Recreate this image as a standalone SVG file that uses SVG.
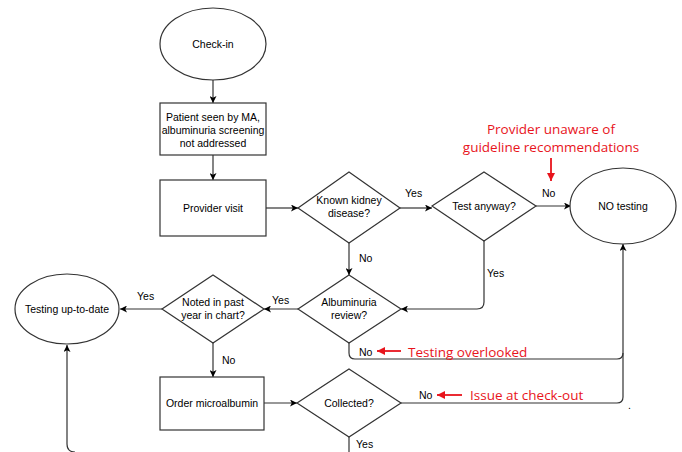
<svg xmlns="http://www.w3.org/2000/svg" width="682" height="452" viewBox="0 0 682 452">
<defs>
<marker id="ah" viewBox="0 0 10 10" refX="10" refY="5" markerWidth="7" markerHeight="7" orient="auto" markerUnits="userSpaceOnUse"><path d="M0,0 L10,5 L0,10 L2.5,5 Z" fill="#000"/></marker>
<marker id="rh" viewBox="0 0 10 10" refX="10" refY="5" markerWidth="8" markerHeight="8" orient="auto" markerUnits="userSpaceOnUse"><path d="M0,0 L10,5 L0,10 Z" fill="#e8141c"/></marker>
</defs>
<style>
.s{fill:#fff;stroke:#333;stroke-width:1.2}
.t{font-family:"Liberation Sans",Arial,sans-serif;font-size:10.5px;fill:#000;text-anchor:middle}
.l{font-family:"Liberation Sans",Arial,sans-serif;font-size:10.5px;fill:#000}
.c{fill:none;stroke:#333;stroke-width:1.2}
.r{font-family:"Open Sans","Liberation Sans",sans-serif;font-size:13.5px;fill:#e8141c}
.rc{fill:none;stroke:#e8141c;stroke-width:1.8}
</style>
<rect width="682" height="452" fill="#fff"/>
<g id="connectors">
<path class="c" d="M213,80 V103" marker-end="url(#ah)"/>
<path class="c" d="M213,155 V180" marker-end="url(#ah)"/>
<path class="c" d="M266,208 H298" marker-end="url(#ah)"/>
<path class="c" d="M400,208 H432" marker-end="url(#ah)"/>
<path class="c" d="M536,206 H571" marker-end="url(#ah)"/>
<path class="c" d="M349,243 V275" marker-end="url(#ah)"/>
<path class="c" d="M484,241 V302 Q484,309 477,309 H401" marker-end="url(#ah)"/>
<path class="c" d="M298,309 H264" marker-end="url(#ah)"/>
<path class="c" d="M162,309 H120" marker-end="url(#ah)"/>
<path class="c" d="M213,343 V377" marker-end="url(#ah)"/>
<path class="c" d="M264,403 H297" marker-end="url(#ah)"/>
<path class="c" d="M349,343 V353 Q349,359 355,359 H617 Q623,359 623,353"/>
<path class="c" d="M401,403 H617 Q623,403 623,397 V244" marker-end="url(#ah)"/>
<path class="c" d="M349,437 V452"/>
<path class="c" d="M75,452 Q67,452 67,444 V345" marker-end="url(#ah)"/>
<path class="rc" d="M551,158 V181" marker-end="url(#rh)"/>
<path class="rc" d="M401,351 H377" marker-end="url(#rh)"/>
<path class="rc" d="M462,395 H437" marker-end="url(#rh)"/>
<text class="l" x="405" y="197">Yes</text>
<text class="l" x="542" y="197">No</text>
<text class="l" x="359" y="262">No</text>
<text class="l" x="487" y="277">Yes</text>
<text class="l" x="272" y="304">Yes</text>
<text class="l" x="137" y="300">Yes</text>
<text class="l" x="222" y="364">No</text>
<text class="l" x="359" y="356">No</text>
<text class="l" x="419" y="399">No</text>
<text class="l" x="356" y="448">Yes</text>
<text class="l" x="628" y="409" font-size="8">.</text>
<text class="r" x="551" y="134" text-anchor="middle">Provider unaware of</text>
<text class="r" x="551" y="152" text-anchor="middle">guideline recommendations</text>
<text class="r" x="408" y="357">Testing overlooked</text>
<text class="r" x="470" y="400">Issue at check-out</text>
</g>
<g id="checkin"><ellipse class="s" cx="213" cy="44" rx="53" ry="36"/><text class="t" x="213" y="48">Check-in</text></g>
<g id="patient"><rect class="s" x="160" y="103" width="106" height="52"/><text class="t" x="213" y="121">Patient seen by MA,</text><text class="t" x="213" y="134">albuminuria screening</text><text class="t" x="213" y="147">not addressed</text></g>
<g id="provider"><rect class="s" x="160" y="180" width="106" height="56"/><text class="t" x="213" y="212">Provider visit</text></g>
<g id="kidney"><polygon class="s" points="349,172 400,208 349,243 298,208"/><text class="t" x="349" y="204">Known kidney</text><text class="t" x="349" y="217">disease?</text></g>
<g id="anyway"><polygon class="s" points="484,172 536,206 484,241 432,206"/><text class="t" x="484" y="210">Test anyway?</text></g>
<g id="notesting"><ellipse class="s" cx="623" cy="206" rx="53" ry="38"/><text class="t" x="623" y="210">NO testing</text></g>
<g id="albuminuria"><polygon class="s" points="349,275 401,309 349,343 298,309"/><text class="t" x="349" y="306">Albuminuria</text><text class="t" x="349" y="319">review?</text></g>
<g id="noted"><polygon class="s" points="213,275 264,309 213,343 162,309"/><text class="t" x="213" y="306">Noted in past</text><text class="t" x="213" y="319">year in chart?</text></g>
<g id="uptodate"><ellipse class="s" cx="67" cy="309" rx="52" ry="35"/><text class="t" x="67" y="313">Testing up-to-date</text></g>
<g id="order"><rect class="s" x="160" y="377" width="104" height="53"/><text class="t" x="212" y="407">Order microalbumin</text></g>
<g id="collected"><polygon class="s" points="349,369 401,403 349,437 297,403"/><text class="t" x="349" y="407">Collected?</text></g>
</svg>
